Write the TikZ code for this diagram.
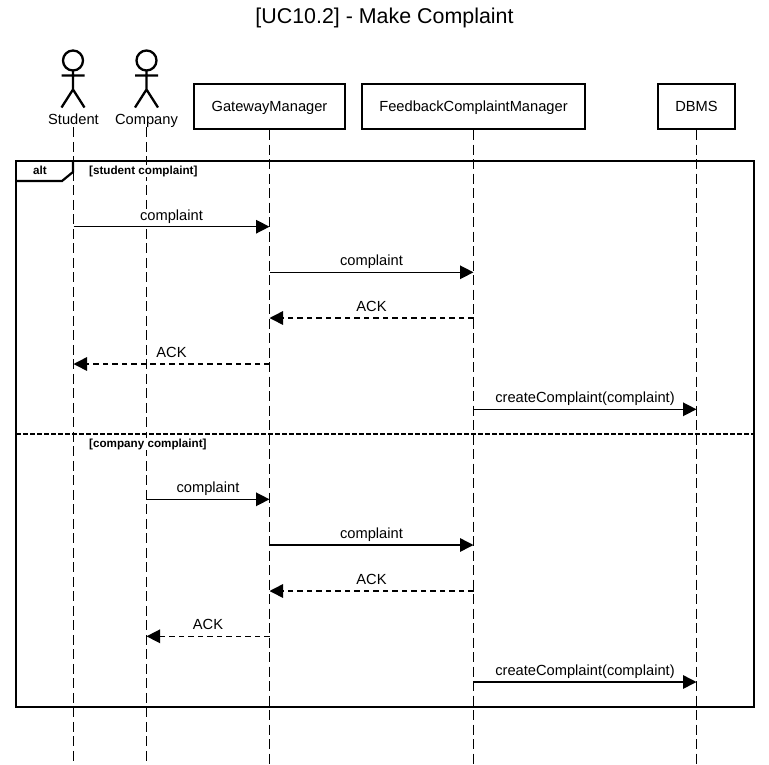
\documentclass[tikz,border=0pt]{standalone}
\usepackage{fontspec}
\setmainfont{Liberation Sans}
\usetikzlibrary{arrows.meta}
\tikzset{
  box/.style={draw,line width=2.2pt,minimum height=45pt,text height=13pt,text depth=3pt,
    font=\fontsize{14.67}{17}\selectfont},
  actorname/.style={font=\fontsize{14.67}{17}\selectfont,inner sep=0pt,text height=10.5pt,text depth=3pt},
  lifeline/.style={line width=1.4pt,dash pattern=on 10pt off 4.5pt},
  frameline/.style={line width=2.2pt},
  guard/.style={font=\bfseries\fontsize{11.67}{14}\selectfont,anchor=base west,inner sep=1pt,fill=white},
  msg/.style={line width=1.5pt,-{Triangle[length=13.5pt,width=13.5pt]}},
  ack/.style={msg,dash pattern=on 5.5pt off 4pt},
  msgtext/.style={midway,anchor=base,yshift=6.5pt,inner sep=1pt,fill=white,
    font=\fontsize{14.67}{17}\selectfont},
  stickman/.pic={
    \draw[line width=2.3pt] (0,-13) circle (10);
    \draw[line width=2.3pt] (-11.5,2) -- (11.5,2) (0,-3) -- (0,16) (-11.5,34) -- (0,16) -- (11.5,34);
  }
}
\begin{document}
\begin{tikzpicture}[x=1pt,y=-1pt]
  \useasboundingbox (0,0) rectangle (769,764);
  \node[font=\fontsize{21.4}{25}\selectfont] (title) at (384.5,18) {[UC10.2] - Make Complaint};

  % participants
  \pic at (73,73.5) {stickman};
  \pic at (146.5,73.5) {stickman};
  \node[actorname] (student) at (73.5,120.5) {Student};
  \node[actorname] (company) at (146.5,120.5) {Company};
  \node[box,minimum width=151pt] (gateway) at (269.5,106.5) {GatewayManager};
  \node[box,minimum width=223pt] (feedback) at (473.5,106.5) {FeedbackComplaintManager};
  \node[box,minimum width=77pt] (dbms) at (696.5,106.5) {DBMS};

  % rows
  \coordinate (bottom) at (0,764);
  \coordinate (m1) at (0,226.7);
  \coordinate (m2) at (0,272.3);
  \coordinate (m3) at (0,318);
  \coordinate (m4) at (0,364);
  \coordinate (m5) at (0,409.3);
  \coordinate (m6) at (0,499.3);
  \coordinate (m7) at (0,545);
  \coordinate (m8) at (0,591);
  \coordinate (m9) at (0,636.3);
  \coordinate (m10) at (0,682);

  % lifelines
  \draw[lifeline] (student.south) -- (student |- bottom);
  \draw[lifeline] (company.south) -- (company |- bottom);
  \draw[lifeline] (gateway.south) -- (gateway |- bottom);
  \draw[lifeline] (feedback.south) -- (feedback |- bottom);
  \draw[lifeline] (dbms.south) -- (dbms |- bottom);

  % alt frame
  \coordinate (nw) at (16,161);
  \coordinate (se) at (754,707);
  \draw[frameline] (nw) rectangle (se);
  \draw[frameline] (73,161) -- (73,172) -- (62,181) -- (16,181);
  \draw[frameline,dash pattern=on 4.5pt off 2.5pt] (16,434) coordinate (split) -- (split -| se);
  \node[guard] (alt) at (32,174) {alt};
  \node[guard] (guardone) at (88,174) {[student complaint]};
  \node[guard] (guardtwo) at (88,447) {[company complaint]};

  % student complaint
  \draw[msg] (student |- m1) -- node[msgtext] {complaint} (gateway |- m1);
  \draw[msg] (gateway |- m2) -- node[msgtext] {complaint} (feedback |- m2);
  \draw[ack] (feedback |- m3) -- node[msgtext] {ACK} (gateway |- m3);
  \draw[ack] (gateway |- m4) -- node[msgtext] {ACK} (student |- m4);
  \draw[msg] (feedback |- m5) -- node[msgtext] {createComplaint(complaint)} (dbms |- m5);

  % company complaint
  \draw[msg] (company |- m6) -- node[msgtext] {complaint} (gateway |- m6);
  \draw[msg] (gateway |- m7) -- node[msgtext] {complaint} (feedback |- m7);
  \draw[ack] (feedback |- m8) -- node[msgtext] {ACK} (gateway |- m8);
  \draw[ack] (gateway |- m9) -- node[msgtext] {ACK} (company |- m9);
  \draw[msg] (feedback |- m10) -- node[msgtext] {createComplaint(complaint)} (dbms |- m10);
\end{tikzpicture}
\end{document}
